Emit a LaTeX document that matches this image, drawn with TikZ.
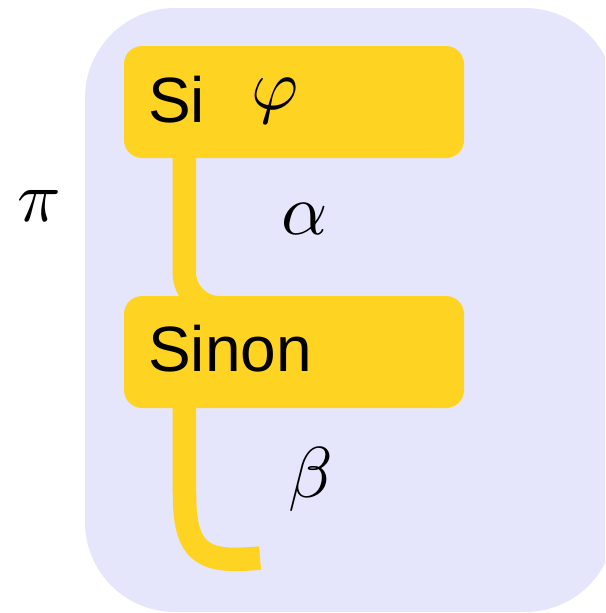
\documentclass[tikz,border=0pt]{standalone}
\usepackage{graphicx}
\usepackage{fontspec}
\setsansfont{Liberation Sans}
\definecolor{lav}{RGB}{229,229,252}
\definecolor{ygold}{RGB}{255,211,33}
\pgfdeclarelayer{back}
\pgfdeclarelayer{mid}
\pgfsetlayers{back,mid,main}
\newcommand{\hugemathsym}[1]{\scalebox{7.2}{$#1$}}
\tikzset{
  ybox/.style={fill=ygold, draw=none, rounded corners=18pt, minimum width=340pt, minimum height=112pt, inner sep=0pt},
  conn/.style={draw=ygold, line width=23.5pt},
  sflbl/.style={inner sep=0pt, anchor=base west, font=\sffamily\fontsize{64}{70}\selectfont},
  mlbl/.style={inner sep=0pt, font=\fontsize{10}{12}\selectfont}
}
\begin{document}
\begin{tikzpicture}[x=1pt,y=-1pt]
\useasboundingbox (0,0) rectangle (605,613);
\begin{pgfonlayer}{back}
  \begin{scope}
    \clip (0,0) rectangle (605,613);
    \fill[lav, rounded corners=90pt] (85,8) rectangle (615,612);
  \end{scope}
\end{pgfonlayer}
\node[ybox] (si) at (294,102) {};
\node[ybox] (sinon) at (294,352) {};
\node[sflbl] (sitxt) at (148,122) {Si};
\node[sflbl] (sinontxt) at (148,371) {Sinon};
\node[mlbl] (phi) at (275,101) {\hugemathsym{\varphi}};
\node[mlbl] (alpha) at (304.5,219) {\hugemathsym{\alpha}};
\node[mlbl] (beta) at (311,479) {\hugemathsym{\beta}};
\node[mlbl] (pi) at (39,206) {\hugemathsym{\pi}};
\coordinate (tail) at (260,558);
\begin{pgfonlayer}{mid}
  \draw[conn, rounded corners=35.5pt] ([xshift=60.5pt]si.south west) |- ([xshift=136pt,yshift=-12pt]sinon.north west);
  \draw[conn] ([xshift=60.5pt]sinon.south west) -- (184.5,495) .. controls (184.5,557) and (207,563) .. (tail);
\end{pgfonlayer}
\end{tikzpicture}
\end{document}
